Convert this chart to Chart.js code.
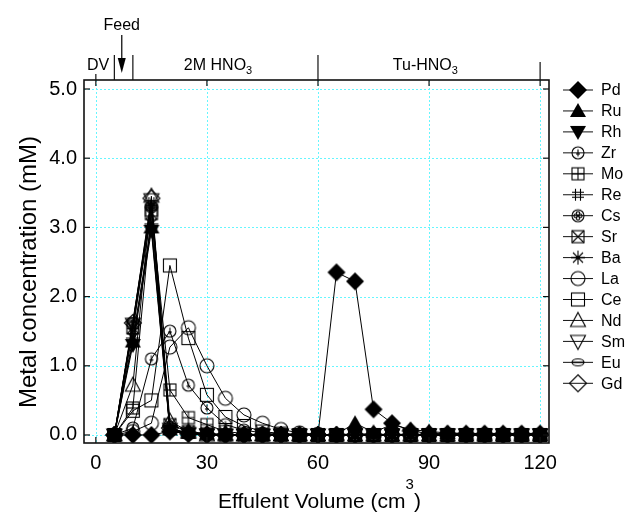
<!DOCTYPE html>
<html><head><meta charset="utf-8">
<script src="https://cdn.jsdelivr.net/npm/chart.js@4/dist/chart.umd.min.js"></script>
<style>html,body{margin:0;padding:0;background:#fff}#wrap{width:627px;height:519px;position:relative}</style>
</head><body><div id="wrap"><canvas id="c" width="627" height="519"></canvas></div>
<script>
// ---- data ----
const volumes = [5,10,15,20,25,30,35,40,45,50,55,60,65,70,75,80,85,90,95,100,105,110,115,120];
const xTicks = [0,30,60,90,120];
const yTicks = [0,1,2,3,4,5];
const elements = ['Pd','Ru','Rh','Zr','Mo','Re','Cs','Sr','Ba','La','Ce','Nd','Sm','Eu','Gd'];
const pd = [0,0,0,0.05,0.02,0.01,0,0,0,0,0,0,2.35,2.22,0.37,0.17,0.06,0.02,0.02,0.02,0.02,0.02,0.02,0.02];
const ru = [0,1.35,3.0,0.08,0.03,0.02,0.01,0,0,0,0,0,0.01,0.17,0.04,0.15,0.08,0.05,0.03,0.02,0.02,0.02,0.02,0.02];
const rh = [0,1.3,2.95,0.06,0.02,0.01,0,0,0,0,0,0,0,0.02,0.01,0.01,0.01,0.01,0.01,0.01,0.01,0.01,0.01,0.01];
const zr = [0,0.1,1.1,1.5,0.72,0.39,0.15,0.07,0.03,0.02,0.01,0,0,0,0,0,0,0,0,0,0,0,0,0];
const mo = [0,0.39,3.25,0.65,0.25,0.15,0.05,0.02,0,0,0,0,0,0,0,0,0,0,0,0,0,0,0,0];
const re = [0,1.5,3.35,0.1,0.02,0,0,0,0,0,0,0,0,0,0,0,0,0,0,0,0,0,0,0];
const cs = [0,1.6,3.3,0.06,0.02,0,0,0,0,0,0,0,0,0,0,0,0,0,0,0,0,0,0,0];
const sr = [0,1.55,3.2,0.15,0.05,0.02,0,0,0,0,0,0,0,0,0,0,0,0,0,0,0,0,0,0];
const ba = [0,1.4,3.05,0.1,0.02,0,0,0,0,0,0,0,0,0,0,0,0,0,0,0,0,0,0,0];
const la = [0,0.05,0.17,1.27,1.55,1.0,0.53,0.29,0.17,0.08,0.03,0.01,0,0,0,0,0,0,0,0,0,0,0,0];
const ce = [0,0.35,0.5,2.45,1.4,0.58,0.26,0.13,0.05,0.02,0,0,0,0,0,0,0,0,0,0,0,0,0,0];
const nd = [0,0.72,3.45,0.2,0.05,0,0,0,0,0,0,0,0,0,0,0,0,0,0,0,0,0,0,0];
const sm = [0,1.6,3.4,0.08,0.02,0,0,0,0,0,0,0,0,0,0,0,0,0,0,0,0,0,0,0];
const eu = [0,1.65,3.3,0.05,0.02,0,0,0,0,0,0,0,0,0,0,0,0,0,0,0,0,0,0,0];
const gd = [0,1.62,3.42,0.1,0.02,0,0,0,0,0,0,0,0,0,0,0,0,0,0,0,0,0,0,0];
const seriesValues = [pd,ru,rh,zr,mo,re,cs,sr,ba,la,ce,nd,sm,eu,gd];

// ---- marker images ----
function mk(draw){
  const c=document.createElement('canvas'); c.width=22; c.height=22;
  const g=c.getContext('2d'); g.translate(11,11);
  g.strokeStyle='#000'; g.fillStyle='#000'; g.lineWidth=1.1;
  draw(g); return c;
}
function circ(g,r){g.beginPath();g.arc(0,0,r,0,Math.PI*2);g.stroke();}
function line(g,a,b,c,d){g.beginPath();g.moveTo(a,b);g.lineTo(c,d);g.stroke();}
const markers = {
  Pd: mk(g=>{g.beginPath();g.moveTo(0,-9);g.lineTo(9,0);g.lineTo(0,9);g.lineTo(-9,0);g.closePath();g.fill();}),
  Ru: mk(g=>{g.beginPath();g.moveTo(0,-8);g.lineTo(8,6);g.lineTo(-8,6);g.closePath();g.fill();}),
  Rh: mk(g=>{g.beginPath();g.moveTo(0,8);g.lineTo(8,-6);g.lineTo(-8,-6);g.closePath();g.fill();}),
  Zr: mk(g=>{circ(g,6);line(g,0,-3.5,0,3.5);line(g,-2,1,2,1);}),
  Mo: mk(g=>{g.strokeRect(-6,-6,12,12);line(g,0,-6,0,6);line(g,-6,0,6,0);}),
  Re: mk(g=>{line(g,-2.5,-6,-2.5,6);line(g,2.5,-6,2.5,6);line(g,-6,-2.5,6,-2.5);line(g,-6,2.5,6,2.5);}),
  Cs: mk(g=>{circ(g,6);[[2.3,0],[-2.3,0],[0,2.3],[0,-2.3]].forEach(p=>{g.beginPath();g.arc(p[0],p[1],1.8,0,Math.PI*2);g.stroke();});}),
  Sr: mk(g=>{g.strokeRect(-6,-6,12,12);line(g,-6,-6,6,6);line(g,-6,6,6,-6);}),
  Ba: mk(g=>{line(g,-7,0,7,0);line(g,0,-7,0,7);line(g,-5,-5,5,5);line(g,-5,5,5,-5);g.beginPath();g.arc(0,0,2,0,Math.PI*2);g.fill();}),
  La: mk(g=>{circ(g,7);}),
  Ce: mk(g=>{g.strokeRect(-6.5,-6.5,13,13);}),
  Nd: mk(g=>{g.beginPath();g.moveTo(0,-8);g.lineTo(7.5,6);g.lineTo(-7.5,6);g.closePath();g.stroke();}),
  Sm: mk(g=>{g.beginPath();g.moveTo(0,8);g.lineTo(7.5,-6);g.lineTo(-7.5,-6);g.closePath();g.stroke();}),
  Eu: mk(g=>{g.beginPath();g.ellipse(0,0,6,3.5,0,0,Math.PI*2);g.stroke();line(g,-6,0,6,0);}),
  Gd: mk(g=>{g.beginPath();g.moveTo(0,-8.5);g.lineTo(8.5,0);g.lineTo(0,8.5);g.lineTo(-8.5,0);g.closePath();g.stroke();})
};

const datasets = elements.map((name,i)=>({
  label: name,
  data: volumes.map((v,j)=>({x:v,y:seriesValues[i][j]})),
  borderColor:'#000', backgroundColor:'#000', borderWidth:1,
  pointStyle: markers[name], pointRadius:6, pointHoverRadius:6,
  showLine:true, tension:0
}));

const FONT = '"Liberation Sans", Arial, sans-serif';

const decor = {
  id:'decor',
  beforeDatasetsDraw(chart){
    const {ctx, chartArea:a, scales:{x,y}} = chart;
    ctx.save();
    ctx.strokeStyle='#66f6ff'; ctx.lineWidth=1; ctx.setLineDash([2,2]);
    xTicks.forEach(v=>{const p=Math.round(x.getPixelForValue(v))+0.5; line(ctx,p,a.top,p,a.bottom);});
    yTicks.forEach(v=>{const p=Math.round(y.getPixelForValue(v))+0.5; line(ctx,a.left,p,a.right,p);});
    ctx.restore();
  },
  afterDatasetsDraw(chart){
    const {ctx, chartArea:a, scales:{x,y}} = chart;
    ctx.save();
    ctx.strokeStyle='#111'; ctx.lineWidth=1.6; ctx.setLineDash([]);
    ctx.strokeRect(a.left,a.top,a.right-a.left,a.bottom-a.top);
    ctx.lineWidth=1.2;
    // inward ticks
    xTicks.forEach(v=>{const p=x.getPixelForValue(v); line(ctx,p,a.bottom,p,a.bottom-6); line(ctx,p,a.top,p,a.top+6);});
    yTicks.forEach(v=>{const p=y.getPixelForValue(v); line(ctx,a.left,p,a.left+6,p); line(ctx,a.right,p,a.right-6,p);});
    // top annotation
    [[5,25],[10,25],[60,25],[120,18]].forEach(([v,h])=>{const p=x.getPixelForValue(v); line(ctx,p,a.top-h,p,a.top);});
    const p0=x.getPixelForValue(0); line(ctx,p0,a.top-6,p0,a.top);
    ctx.fillStyle='#000'; ctx.textBaseline='alphabetic';
    ctx.font='16px '+FONT; ctx.textAlign='center';
    ctx.fillText('DV', a.left+14, a.top-10);
    const sub=(txt,cx,base)=>{
      ctx.font='16px '+FONT; const w1=ctx.measureText(txt).width;
      ctx.font='11px '+FONT; const w2=ctx.measureText('3').width;
      const sx=cx-(w1+w2)/2; ctx.textAlign='left';
      ctx.font='16px '+FONT; ctx.fillText(txt,sx,base);
      ctx.font='11px '+FONT; ctx.fillText('3',sx+w1,base+4);
    };
    sub('2M HNO', x.getPixelForValue(33), a.top-10);
    sub('Tu-HNO', x.getPixelForValue(89), a.top-10);
    // Feed arrow
    const fx=x.getPixelForValue(7);
    ctx.font='16px '+FONT; ctx.textAlign='center';
    ctx.fillText('Feed', fx, 30);
    ctx.lineWidth=1.3; line(ctx,fx,35,fx,62);
    ctx.beginPath(); ctx.moveTo(fx-4,58); ctx.lineTo(fx+4,58); ctx.lineTo(fx,73); ctx.closePath(); ctx.fill();
    // axis titles
    const XF='21px '+FONT, SF='15px '+FONT;
    ctx.font=XF;
    const t1='Effulent Volume (cm', t2=')';
    const w1=ctx.measureText(t1).width, w3=ctx.measureText(t2).width;
    ctx.font=SF; const w2=ctx.measureText('3').width;
    const tot=w1+w2+w3; let sx=218;
    ctx.textAlign='left';
    ctx.font=XF; ctx.fillText(t1,sx,508);
    ctx.font=SF; ctx.fillText('3',sx+w1,489);
    ctx.font=XF; ctx.fillText(t2,sx+w1+w2,508);
    ctx.save(); ctx.translate(36,272); ctx.rotate(-Math.PI/2);
    ctx.textAlign='center'; ctx.font='24px '+FONT; ctx.fillText('Metal concentration (mM)',0,0);
    ctx.restore();
    // legend
    const lx=578, ly0=90, dy=20.95;
    ctx.lineWidth=1; ctx.textAlign='left'; ctx.textBaseline='middle'; ctx.font='16px '+FONT;
    elements.forEach((name,i)=>{
      const yy=ly0+i*dy;
      line(ctx,563,yy,593,yy);
      const m=markers[name]; ctx.drawImage(m,lx-m.width/2,yy-m.height/2);
      ctx.fillText(name,601,yy+1);
    });
    ctx.restore();
  }
};

new Chart(document.getElementById('c'),{
  type:'scatter',
  data:{datasets},
  options:{
    responsive:false, animation:false, devicePixelRatio:1,
    layout:{padding:{left:0,right:78,top:80,bottom:0}},
    plugins:{legend:{display:false},tooltip:{enabled:false}},
    scales:{
      x:{type:'linear',min:-3.2,max:122.4,
        afterBuildTicks:s=>{s.ticks=xTicks.map(v=>({value:v}));},
        afterFit:s=>{s.height=76;},
        grid:{display:false,drawTicks:false},border:{display:false},
        ticks:{padding:8,color:'#000',font:{family:FONT,size:20},callback:v=>String(v)}},
      y:{type:'linear',min:-0.116,max:5.13,
        afterBuildTicks:s=>{s.ticks=yTicks.map(v=>({value:v}));},
        afterFit:s=>{s.width=84;},
        grid:{display:false,drawTicks:false},border:{display:false},
        ticks:{padding:7,color:'#000',font:{family:FONT,size:20},callback:v=>Number(v).toFixed(1)}}
    }
  },
  plugins:[decor]
});
</script></body></html>
